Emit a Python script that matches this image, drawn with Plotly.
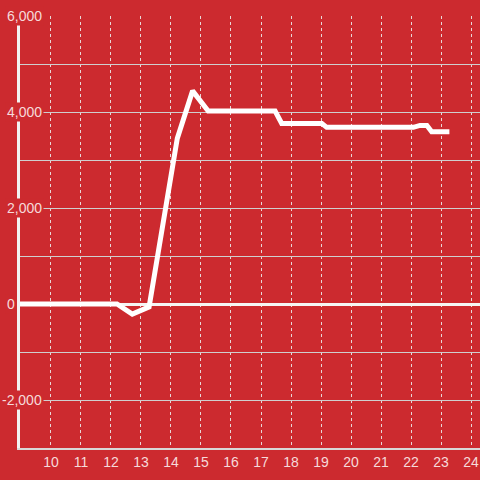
import plotly.graph_objects as go

# Data
x_vals = [8.9, 12.2, 12.71, 13.27, 14.21, 14.72, 15.24, 17.47, 17.69, 19.03, 19.19, 22.08, 22.3, 22.53, 22.69, 23.28]
y_vals = [0, 0, -210, -60, 3450, 4440, 4020, 4020, 3760, 3760, 3680, 3680, 3720, 3720, 3590, 3590]

x_ticks = list(range(10, 25))
y_label_vals = [-2000, 0, 2000, 4000, 6000]
y_label_text = ["-2,000", "0", "2,000", "4,000", "6,000"]

BG = "#CC2A2F"
TXT = "#F6DADA"

fig = go.Figure()
fig.add_trace(go.Scatter(x=x_vals, y=y_vals, mode="lines",
                         line=dict(color="white", width=5), hoverinfo="skip"))

for v, t in zip(y_label_vals, y_label_text):
    fig.add_annotation(x=0, xref="paper", y=v, yref="y", text=t, showarrow=False,
                       xanchor="right", xshift=(-3 if t == "0" else 24),
                       bgcolor=BG, borderpad=1,
                       font=dict(family="Liberation Sans, Arial, sans-serif", size=14, color=TXT))

fig.update_layout(
    width=480, height=480,
    margin=dict(l=20, r=0, t=16, b=32, autoexpand=False),
    paper_bgcolor=BG, plot_bgcolor=BG,
    showlegend=False,
    font=dict(family="Liberation Sans, Arial, sans-serif", size=14, color=TXT),
)
fig.update_xaxes(range=[8.967, 24.3], tickvals=x_ticks, ticktext=[str(t) for t in x_ticks],
                 showgrid=True, gridcolor="#E8D8D8", griddash="dot", gridwidth=1,
                 showline=True, linecolor="#D8D8D8", linewidth=2,
                 zeroline=False, ticks="", tickfont=dict(size=14, color=TXT), automargin=False)
fig.update_yaxes(range=[-3000, 6000], dtick=1000, tick0=0,
                 showgrid=True, gridcolor="#CFCFCF", gridwidth=1,
                 showticklabels=False, ticks="", automargin=False,
                 showline=True, linecolor="#F2F2F2", linewidth=3,
                 zeroline=True, zerolinecolor="#F5F5F5", zerolinewidth=3)

fig.write_html("out.html", config={"displayModeBar": False},
               post_script="document.body.style.margin='0px';document.body.style.overflow='hidden';")
